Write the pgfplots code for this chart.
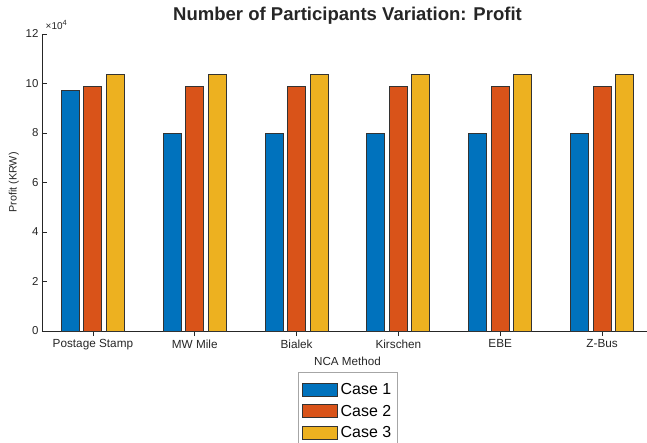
\documentclass[border=0pt]{standalone}
\usepackage{pgfplots}
\pgfplotsset{compat=1.18}
\usepackage{fontspec}
\setmainfont{Liberation Sans}
\definecolor{caseA}{HTML}{0072BD}
\definecolor{caseB}{HTML}{D95319}
\definecolor{caseC}{HTML}{EDB120}
\definecolor{axgray}{HTML}{262626}

\begin{document}
\begin{tikzpicture}
% page = 647 x 443 bp, the axis runs past the right edge as in the reference
\clip (-42bp,-112bp) rectangle (605bp,331bp);
\begin{axis}[
  at={(0,0)}, anchor=south west,
  scale only axis,
  width=611bp, height=297bp,
  xmin=0.5, xmax=6.5,
  ymin=0, ymax=120000,
  clip=false,
  axis lines=left,
  axis line style={-, draw=axgray, line width=0.6bp},
  tick style={draw=axgray, line width=0.6bp},
  tick align=inside,
  major tick length=5bp,
  ybar=4.5bp, bar width=18bp,
  xtick={1,...,6},
  xticklabels={Postage Stamp, MW Mile, Bialek, Kirschen, EBE, Z-Bus},
  ytick={0,20000,40000,60000,80000,100000,120000},
  yticklabels={0,2,4,6,8,10,12},
  scaled y ticks=false,
  xticklabel style={font=\fontsize{11.8}{13}\selectfont, text=axgray},
  yticklabel style={font=\fontsize{11.5}{13}\selectfont, text=axgray},
  xlabel={NCA Method},
  ylabel={Profit (KRW)},
  xlabel style={font=\fontsize{11.7}{13}\selectfont, text=axgray},
  ylabel style={font=\fontsize{10.8}{13}\selectfont, text=axgray},
  title={Number of Participants Variation: Profit},
  title style={font=\fontsize{18.6}{22}\selectfont\bfseries, text=axgray, at={(axis description cs:0.5,1)}, anchor=base, yshift=7.5bp},
  legend style={at={(axis description cs:0.5,0)}, anchor=north, yshift=-41bp,
    draw=gray!70, line width=0.6bp, font=\fontsize{16}{19}\selectfont,
    inner xsep=4bp, inner ysep=9bp, row sep=5bp, /tikz/every odd column/.append style={column sep=1bp}},
  legend cell align=left,
  legend image code/.code={\draw[#1, bar width=0pt] (0bp,-6.5bp) rectangle (35bp,6.5bp);},
]
\addplot[fill=caseA, draw=black!80, line width=0.9bp] coordinates {
  (1,97200) (2,79700) (3,79700) (4,79700) (5,79700) (6,79700)};
\addplot[fill=caseB, draw=black!80, line width=0.9bp] coordinates {
  (1,98700) (2,98700) (3,98700) (4,98700) (5,98700) (6,98700)};
\addplot[fill=caseC, draw=black!80, line width=0.9bp] coordinates {
  (1,103800) (2,103800) (3,103800) (4,103800) (5,103800) (6,103700)};
\legend{Case 1, Case 2, Case 3}
\node[anchor=base west, inner sep=0pt, xshift=3.5bp, yshift=4bp, font=\fontsize{10}{11}\selectfont, text=axgray]
  at (axis description cs:0,1) {×10\raisebox{0.45em}{\fontsize{7.5}{8}\selectfont 4}};
\end{axis}
\end{tikzpicture}
\end{document}
